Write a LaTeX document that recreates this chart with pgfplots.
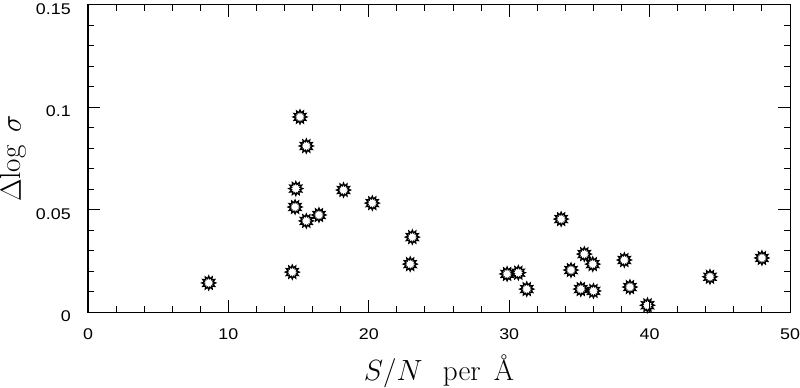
\documentclass[border=0pt]{standalone}
\usepackage{fix-cm}
\usepackage{fontspec}
\usepackage{pgfplots}
\pgfplotsset{compat=1.18}
\newfontfamily\tickfont[FakeStretch=1.15]{Liberation Sans}

\pgfdeclareplotmark{sstar}{%
  \pgfpathmoveto{\pgfpointpolar{90}{4.1pt}}%
  \foreach \k in {1,...,23}{%
    \pgfmathsetmacro\ang{90+15*\k}%
    \ifodd\k\relax
      \pgfpathlineto{\pgfpointpolar{\ang}{2.6pt}}%
    \else
      \pgfpathlineto{\pgfpointpolar{\ang}{4.1pt}}%
    \fi
  }%
  \pgfpathclose\pgfusepathqstroke}

\begin{document}
\begin{tikzpicture}
\begin{axis}[
  name=ax,
  scale only axis,
  width=421.2pt, height=184.2pt,
  xmin=0, xmax=50, ymin=0, ymax=0.15,
  xtick={0,10,20,30,40,50},
  xticklabels={0,10,20,30,40,50},
  ytick={0,0.05,0.1,0.15},
  yticklabels={0,0.05,0.1,0.15},
  scaled y ticks=false,
  minor x tick num=4, minor y tick num=4,
  tick align=inside,
  major tick length=7.2pt, minor tick length=3.6pt,
  axis line style={line width=0.6pt},
  every tick/.style={line width=0.6pt, black},
  xticklabel style={font=\tickfont\fontsize{9.3}{11}\selectfont, anchor=north, inner sep=0pt, yshift=-9.6pt},
  yticklabel style={font=\tickfont\fontsize{9.3}{11}\selectfont, anchor=east, inner sep=0pt, xshift=-10.2pt, yshift=-2.4pt},
  xlabel={\fontsize{17.5}{20}\selectfont $S/N$\hspace{0.7em}per\hspace{0.45em}Å},
  xlabel style={at={(axis description cs:0.5,0)}, anchor=base, inner sep=0pt, yshift=-41.2pt},
  ylabel={\fontsize{17.5}{20}\selectfont $\Delta\!\log\;\sigma$},
  ylabel style={at={(axis description cs:0,0.5)}, anchor=base, inner sep=0pt, rotate=0, yshift=40.2pt},
]
\addplot[only marks, mark=sstar, mark options={line width=0.8pt, black}] coordinates {
(8.6,0.0142) (14.55,0.0195) (14.75,0.0513) (14.8,0.0603) (15.1,0.0953)
(15.55,0.0811) (15.55,0.0445) (16.45,0.0474) (18.2,0.0596) (20.25,0.0532)
(22.95,0.0234) (23.1,0.0366) (29.85,0.0186) (30.65,0.0192) (31.25,0.0112)
(33.7,0.0454) (34.4,0.0205) (35.1,0.0112) (35.35,0.0283) (35.95,0.0234)
(36.0,0.0103) (38.2,0.0254) (38.6,0.0122) (39.85,0.0033) (44.3,0.0172)
(48.0,0.0264)
};
\end{axis}
\pgfresetboundingbox
\path ([xshift=-52.8pt,yshift=-45pt]ax.south west) rectangle ([xshift=6pt,yshift=3pt]ax.north east);
\end{tikzpicture}
\end{document}
